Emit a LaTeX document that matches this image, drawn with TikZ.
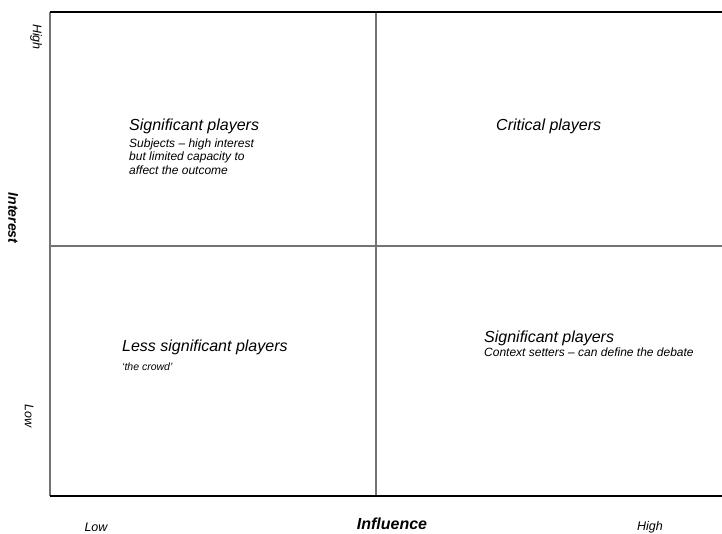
\documentclass[tikz,border=0pt]{standalone}
\usepackage{fontspec}
\setmainfont{Liberation Sans}
\begin{document}
\begin{tikzpicture}[x=1pt,y=-1pt,
  frame/.style={line width=1.2pt,black},
  divider/.style={line width=1.1pt,black!55},
  title/.style={font=\itshape\fontsize{16}{18}\selectfont,anchor=base west,inner sep=0pt},
  note/.style={font=\itshape\fontsize{12}{13.5}\selectfont,anchor=base west,inner sep=0pt},
  axis/.style={font=\itshape\fontsize{12.5}{14}\selectfont,inner sep=0pt},
  axistitle/.style={font=\bfseries\itshape\fontsize{14}{16}\selectfont,inner sep=0pt}]
\useasboundingbox (0,0) rectangle (722,533);
% grid corners
\coordinate (tl) at (50,12);
\coordinate (tr) at (722,12);
\coordinate (bl) at (50,496);
\coordinate (br) at (722,496);
\coordinate (mt) at (376,12);
\coordinate (mb) at (376,496);
\coordinate (ml) at (50,246);
\coordinate (mr) at (722,246);
% dividers and frame
\draw[divider] (tl) -- (bl);
\draw[divider] (mt) -- (mb);
\draw[divider] (ml) -- (mr);
\draw[frame] (tl) -- (tr);
\draw[frame] (bl) -- (br);
% quadrant labels
\node[title] (sp1) at (129,130) {Significant players};
\node[note] (sp1a) at (129,147) {Subjects -- high interest};
\node[note] (sp1b) at (129,160.5) {but limited capacity to};
\node[note] (sp1c) at (129,174) {affect the outcome};
\node[title] (cp) at (496,130) {Critical players};
\node[title] (lsp) at (122,351) {Less significant players};
\node[note,font=\itshape\fontsize{10.5}{12}\selectfont] (lspn) at (122,370) {`the crowd'};
\node[title] (sp2) at (484,342) {Significant players};
\node[note] (sp2n) at (484,356.5) {Context setters -- can define the debate};
% axes
\node[axis,rotate=-90] (yhigh) at (36,37) {High};
\node[axistitle,rotate=-90] (ytitle) at (13,218) {Interest};
\node[axis,rotate=-90] (ylow) at (29,416) {Low};
\node[axis] (xlow) at (96,527) {Low};
\node[axistitle,font=\bfseries\itshape\fontsize{16}{18}\selectfont] (xtitle) at (392,524) {Influence};
\node[axis] (xhigh) at (650,527) {High};
\end{tikzpicture}
\end{document}
